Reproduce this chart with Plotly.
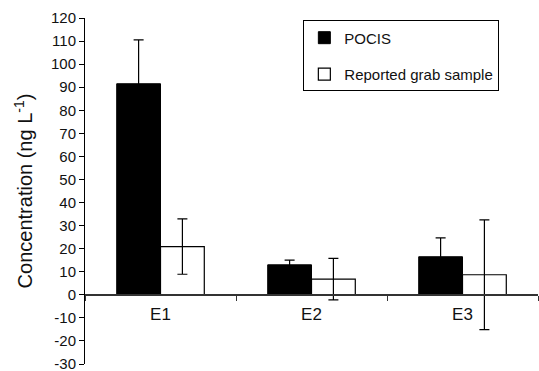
import plotly.graph_objects as go

categories = ["E1", "E2", "E3"]
pocis = [91.5, 13.0, 16.5]
pocis_err = [19.0, 2.0, 8.2]
grab = [20.9, 6.8, 8.7]
grab_err = [12.0, 9.0, 23.8]
y_ticks = list(range(-30, 121, 10))
y_ticktext = [str(v) for v in y_ticks]  # hyphen minus as in the reference

fig = go.Figure()
fig.add_trace(go.Bar(
    x=categories, y=pocis, name="POCIS",
    marker=dict(color="black", line=dict(color="black", width=1)),
    error_y=dict(type="data", array=pocis_err, color="black", thickness=1.2, width=5),
    legendgroup="a",
))
fig.add_trace(go.Bar(
    x=categories, y=grab, name="Reported grab sample",
    marker=dict(color="white", line=dict(color="black", width=1.2)),
    error_y=dict(type="data", array=grab_err, color="black", thickness=1.2, width=5),
    legendgroup="b",
))

font_family = "Liberation Sans, Arial, sans-serif"
fig.update_layout(
    width=539, height=371,
    margin=dict(l=85, r=1, t=18, b=7),
    paper_bgcolor="white", plot_bgcolor="white",
    barmode="group", bargap=0.42, bargroupgap=0,
    font=dict(family=font_family, size=15, color="#111"),
    showlegend=True,
    legend=dict(
        x=0.482, y=0.993, xanchor="left", yanchor="top",
        bordercolor="black", borderwidth=1, bgcolor="white",
        font=dict(size=15, color="#111"), tracegroupgap=14,
        traceorder="grouped",
    ),
    xaxis=dict(
        range=[-0.5, 2.5], anchor="free", position=0.2,
        showline=True, linecolor="#333", linewidth=1.5,
        ticks="outside", tickson="boundaries", ticklen=5, tickcolor="#333",
        showgrid=False, zeroline=False, automargin=False,
        ticklabelstandoff=4,
        tickfont=dict(size=17),
    ),
    yaxis=dict(
        range=[-30, 120], tickvals=y_ticks, ticktext=y_ticktext,
        showline=True, linecolor="black", linewidth=1,
        ticks="outside", ticklen=5, tickcolor="black",
        showgrid=False, zeroline=False, automargin=False,
        ticklabeloverflow="allow",
        tickfont=dict(size=15),
        title=dict(text="Concentration (ng L<sup>-1</sup>)", font=dict(size=20), standoff=12),
    ),
)

fig.write_html(
    "out.html",
    config={"displayModeBar": False},
    post_script="document.body.style.margin='0';document.body.style.padding='0';",
)
